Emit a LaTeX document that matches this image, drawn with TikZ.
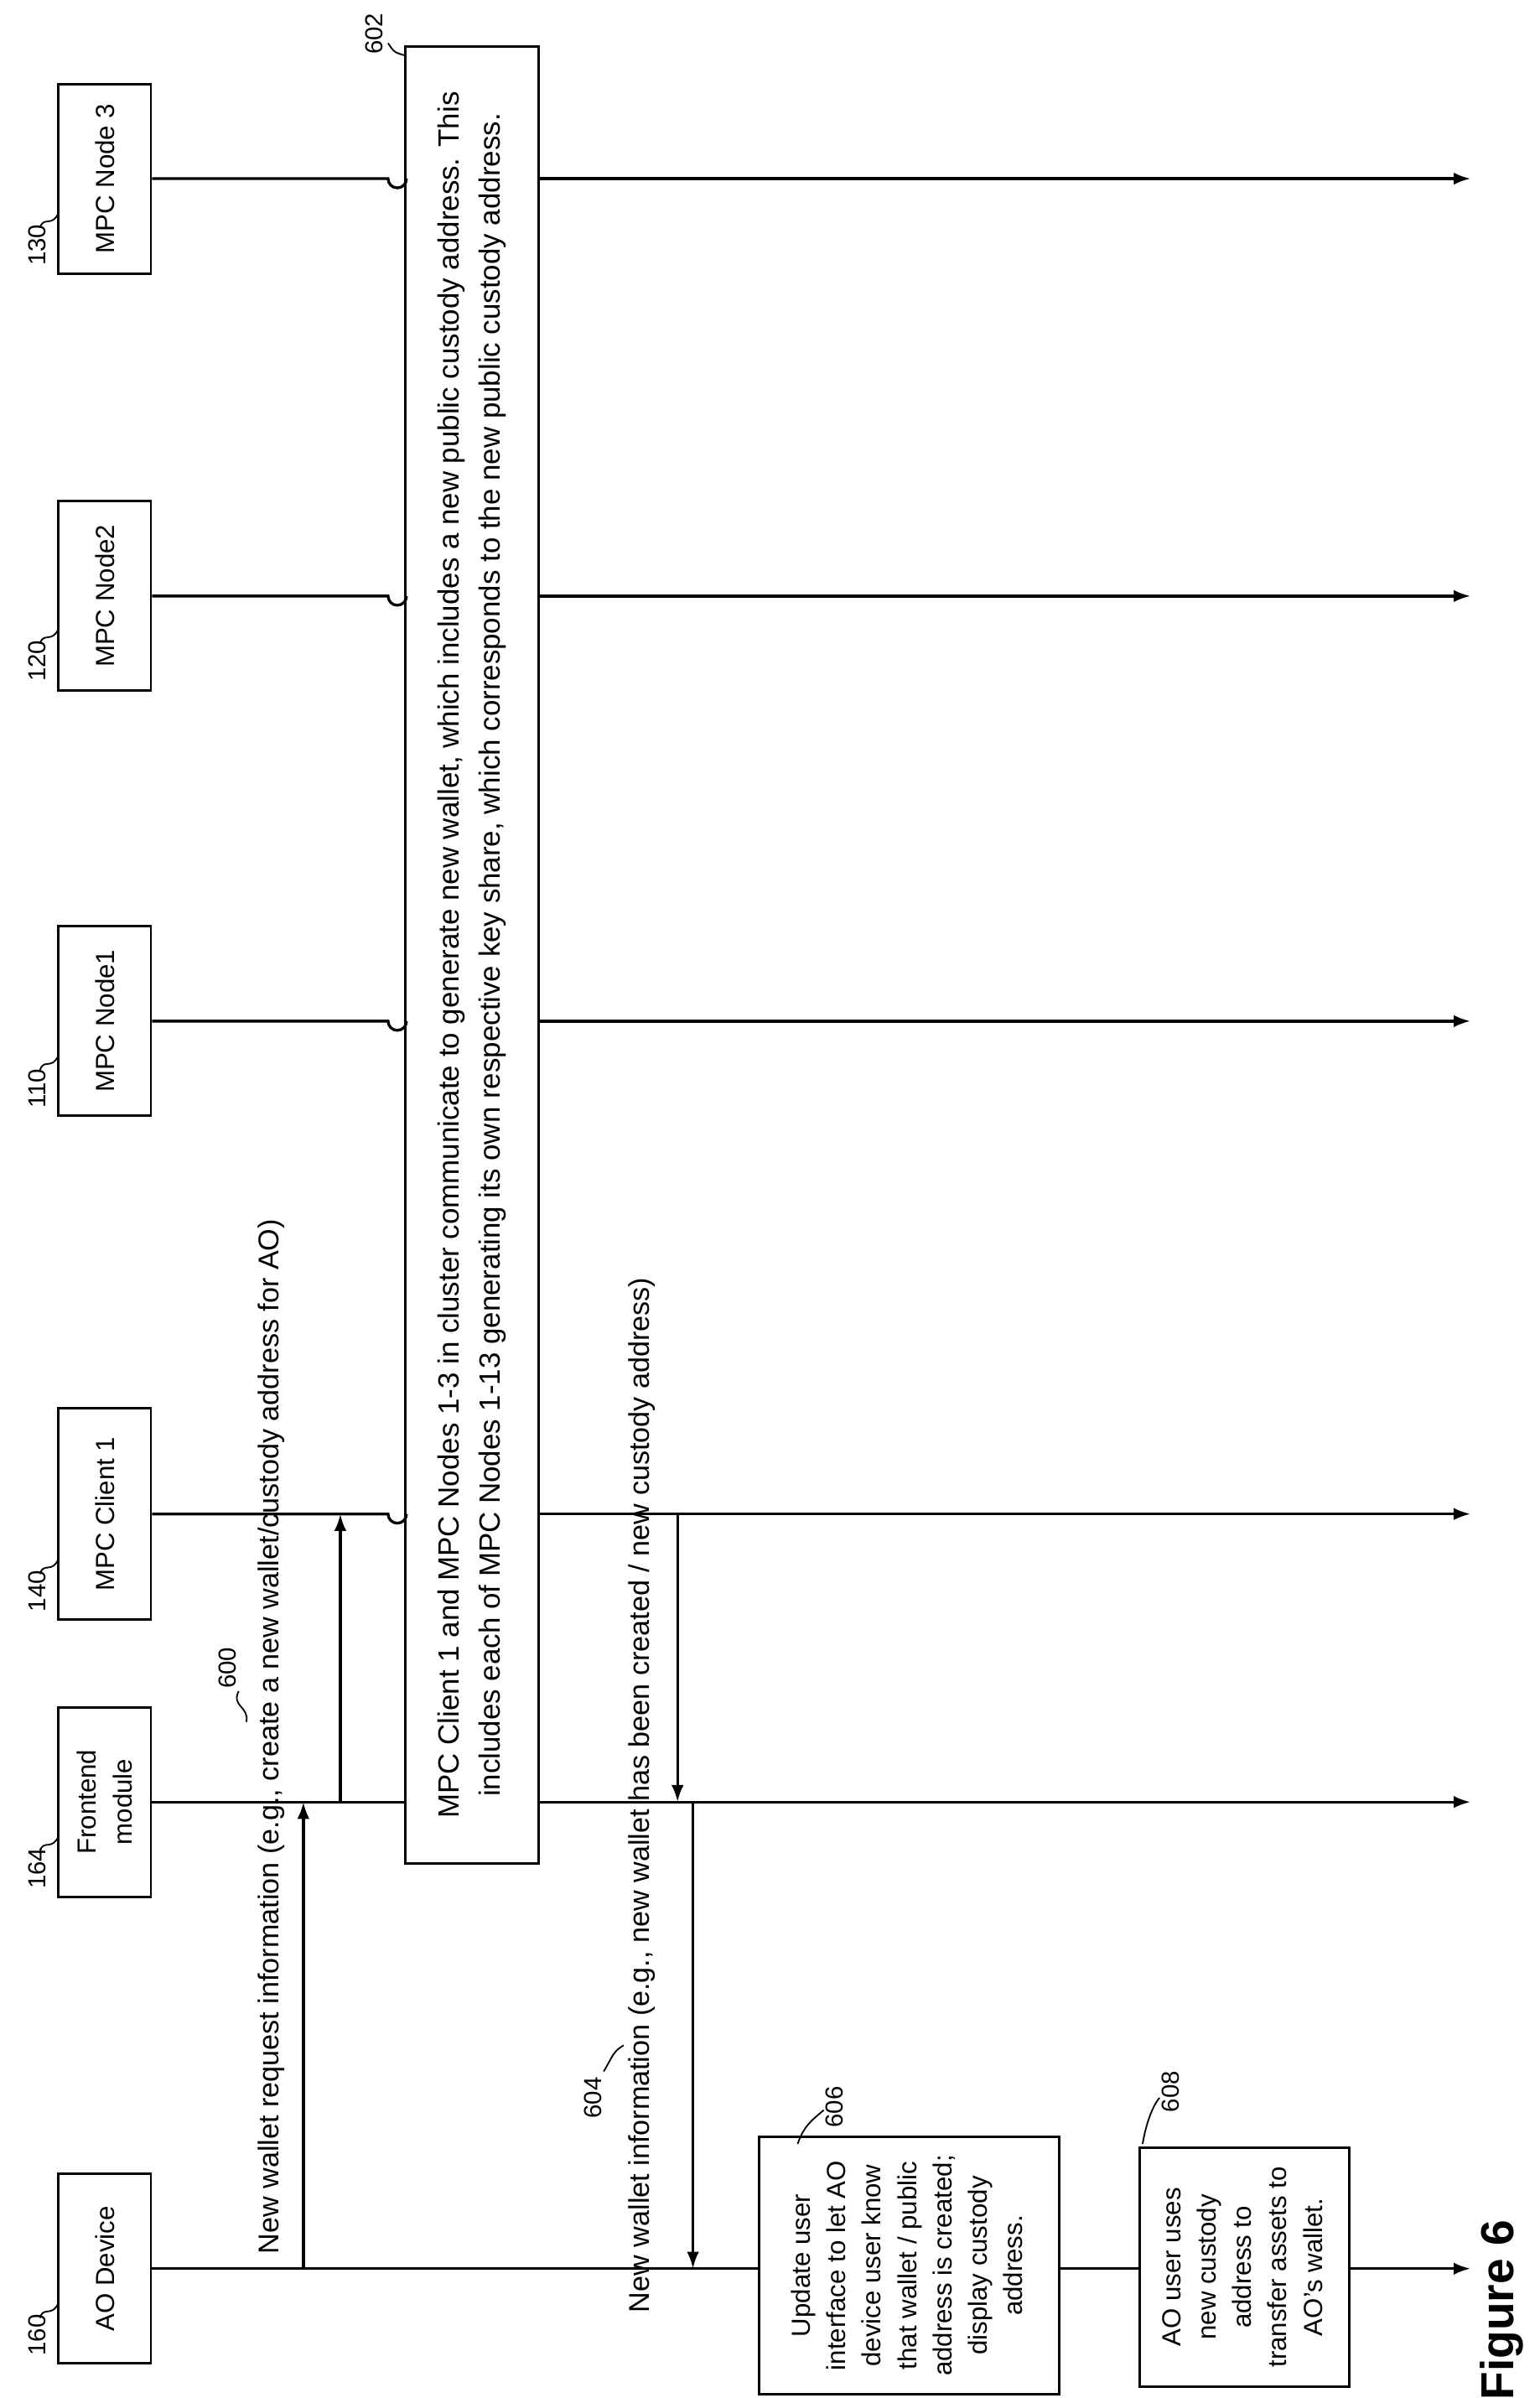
\documentclass[tikz,border=0pt]{standalone}
\usepackage{fontspec}
\setmainfont{Liberation Sans}
\usetikzlibrary{arrows.meta}
\begin{document}
\begin{tikzpicture}[x=1pt,y=-1pt,
  every node/.style={font=\fontsize{17}{23}\selectfont},
  ent/.style={draw,line width=1.6pt,rotate=90,minimum width=123,minimum height=60,align=center,inner sep=2pt},
  ln/.style={line width=1.8pt},
  arr/.style={line width=1.8pt,-{Latex[length=11pt,width=8pt]}},
  lab/.style={rotate=90,font=\fontsize{16}{20}\selectfont},
  msg/.style={rotate=90,font=\fontsize{18.6}{22}\selectfont},
  lead/.style={line width=1pt}]
\useasboundingbox (0,0) rectangle (1000,1557);
% entities
\node[ent] (n3) at (68,116) {MPC Node 3};
\node[ent] (n2) at (68,387) {MPC Node2};
\node[ent] (n1) at (68,663) {MPC Node1};
\node[ent,minimum width=137] (cl) at (68,983) {MPC Client 1};
\node[ent] (fe) at (68,1170) {Frontend\\module};
\node[ent] (ao) at (68,1473) {AO Device};
% ref labels
\foreach \n/\t/\y in {n3/130/178,n2/120/448,n1/110/725,cl/140/1052,fe/164/1232,ao/160/1535}{
  \node[lab,anchor=west] (l\t) at (24,\y-2) {\t};
  \draw[lead] (26,\y-30) .. controls (28,\y-38) and (34,\y-30) .. (38,\y-40);
}
% big box
\node[draw,line width=1.6pt,rotate=90,minimum width=1180,minimum height=87,align=center,font=\fontsize{19}{27}\selectfont] (bx) at (306.5,620)
 {MPC Client 1 and MPC Nodes 1-3 in cluster communicate to generate new wallet, which includes a new public custody address. This\\includes each of MPC Nodes 1-13 generating its own respective key share, which corresponds to the new public custody address.};
\node[lab] (l602) at (243,22) {602};
\draw[lead] (252,28) .. controls (256,34) .. (263,36);
% lifelines with jumps
\foreach \y/\n in {116/n3,387/n2,663/n1,983/cl}{
  \draw[ln] (\n.south |- 0,\y) -- (252,\y) arc (180:0:6);
  \draw[arr] (350,\y) -- (955,\y);
}
\draw[ln] (fe.south) -- (263,1170);
\draw[arr] (350,1170) -- (955,1170);
% AO line with boxes
\node[draw,line width=1.6pt,minimum width=195,minimum height=167,align=center,inner sep=0pt] (b606) at (590.5,1471)
 {\rotatebox{90}{\begin{tabular}{@{}c@{}}Update user\\interface to let AO\\device user know\\that wallet / public\\address is created;\\display custody\\address.\end{tabular}}};
\node[draw,line width=1.6pt,minimum width=136,minimum height=155,align=center,inner sep=0pt] (b608) at (808,1472)
 {\rotatebox{90}{\begin{tabular}{@{}c@{}}AO user uses\\new custody\\address to\\transfer assets to\\AO's wallet.\end{tabular}}};
\draw[ln] (ao.south) -- (b606.west |- 0,1473);
\draw[ln] (b606.east |- 0,1473) -- (b608.west |- 0,1473);
\draw[arr] (b608.east |- 0,1473) -- (955,1473);
\node[lab] (l606) at (542,1368) {606};
\draw[lead] (535,1370) .. controls (528,1376) and (522,1380) .. (518,1392);
\node[lab] (l608) at (760,1358) {608};
\draw[lead] (753,1362) .. controls (748,1368) and (744,1380) .. (742,1392);
% 600 messages
\coordinate (a1) at (197,1473); \coordinate (a2) at (197,1170);
\coordinate (a3) at (221,1170); \coordinate (a4) at (221,983);
\draw[arr] (a1) -- (a2);
\draw[arr] (a3) -- (a4);
\node[msg,anchor=west] (t600) at (176,1467) {New wallet request information (e.g., create a new wallet/custody address for AO)};
\node[lab] (l600) at (148,1083) {600};
\draw[lead] (155,1098) .. controls (150,1108) and (162,1108) .. (160,1118);
% 604 messages
\coordinate (b1) at (440,983); \coordinate (b2) at (440,1170);
\coordinate (b3) at (450,1170); \coordinate (b4) at (450,1473);
\draw[arr] (b1) -- (b2);
\draw[arr] (b3) -- (b4);
\node[msg,anchor=west] (t604) at (417,1505) {New wallet information (e.g., new wallet has been created / new custody address)};
\node[lab] (l604) at (385,1362) {604};
\draw[lead] (392,1345) .. controls (398,1335) and (398,1332) .. (405,1328);
\node[rotate=90,font=\fontsize{30}{34}\bfseries] (fig) at (975,1500) {Figure 6};
\end{tikzpicture}
\end{document}
